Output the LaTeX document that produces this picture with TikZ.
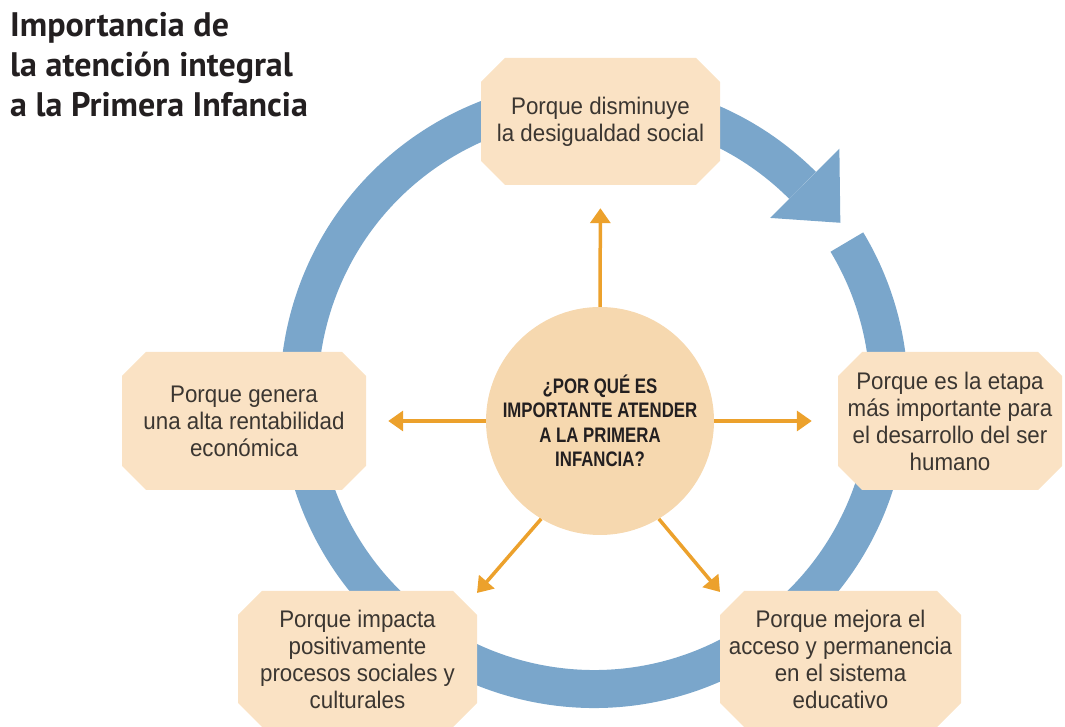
\documentclass[tikz,border=0pt]{standalone}
\usepackage{fontspec}
\setmainfont{Liberation Sans}
\newfontfamily\titlefont{PT Sans}
\newfontfamily\boxfont[FakeStretch=0.93]{Liberation Sans}
\newfontfamily\centfont[FakeStretch=0.8]{Liberation Sans}
\usetikzlibrary{arrows.meta}
\definecolor{ringcol}{HTML}{7AA6CB}
\definecolor{boxfill}{HTML}{FAE2C4}
\definecolor{circfill}{HTML}{F6D8AF}
\definecolor{arrcol}{HTML}{ECA12C}
\definecolor{txtcol}{HTML}{3B3631}
\definecolor{titcol}{HTML}{231F20}
\def\cham{24pt}
\tikzset{
  chbox/.style={inner sep=0pt, align=center, text=txtcol,
    font={\boxfont\fontsize{24}{27}\selectfont},
    path picture={
      \fill[boxfill]
        ([xshift=\cham]path picture bounding box.north west) --
        ([xshift=-\cham]path picture bounding box.north east) --
        ([yshift=-\cham]path picture bounding box.north east) --
        ([yshift=\cham]path picture bounding box.south east) --
        ([xshift=-\cham]path picture bounding box.south east) --
        ([xshift=\cham]path picture bounding box.south west) --
        ([yshift=\cham]path picture bounding box.south west) --
        ([yshift=-\cham]path picture bounding box.north west) -- cycle;}},
  oarrow/.style={draw=arrcol, line width=3.5pt, -{Triangle[length=15pt,width=20pt]}},
}
\begin{document}
\begin{tikzpicture}[x=1pt,y=1pt]
\useasboundingbox (0,0) rectangle (1065,727);
% ring
\coordinate (rc) at (594,333);
\draw[ringcol, line width=38pt] ([shift={(31:295pt)}]rc) arc[start angle=31, end angle=-315, radius=295pt];
\fill[ringcol] ([shift={(45:249pt)}]rc) -- ([shift={(45:347pt)}]rc) -- ([shift={(34.8:300pt)}]rc) -- cycle;
% boxes
\node[chbox, minimum width=239pt, minimum height=127pt] (top) at (600.5,605.5) {Porque disminuye\\la desigualdad social};
\node[chbox, minimum width=244pt, minimum height=138pt] (left) at (244,306) {Porque genera\\una alta rentabilidad\\económica};
\node[chbox, minimum width=224pt, minimum height=138pt] (right) at (950,306) {Porque es la etapa\\más importante para\\el desarrollo del ser\\humano};
\node[chbox, minimum width=239pt, minimum height=136pt] (bl) at (357.5,68) {Porque impacta\\positivamente\\procesos sociales y\\culturales};
\node[chbox, minimum width=241pt, minimum height=136pt] (br) at (840.5,68) {Porque mejora el\\acceso y permanencia\\en el sistema\\educativo};
% centre
\node[circle, fill=circfill, minimum size=228pt, inner sep=0pt, align=center, text=titcol,
  font={\centfont\bfseries\fontsize{21}{24.5}\selectfont}] (circ) at (600,306)
  {¿POR QUÉ ES\\IMPORTANTE ATENDER\\A LA PRIMERA\\INFANCIA?};
% arrows
\coordinate (blt) at (477,134);
\coordinate (brt) at (720,135);
\draw[oarrow, shorten >=23pt] (circ.north) -- (top.south);
\draw[oarrow, shorten >=22pt] (circ.west) -- (left.east);
\draw[oarrow, shorten >=26pt] (circ.east) -- (right.west);
\draw[oarrow] (circ.239) -- (blt);
\draw[oarrow] (circ.301) -- (brt);
% title
\node[anchor=north west, align=left, inner sep=0pt, text=titcol,
  font={\titlefont\bfseries\fontsize{34}{40}\selectfont}] (title) at (10,715)
  {Importancia de\\la atención integral\\a la Primera Infancia};
\end{tikzpicture}
\end{document}
